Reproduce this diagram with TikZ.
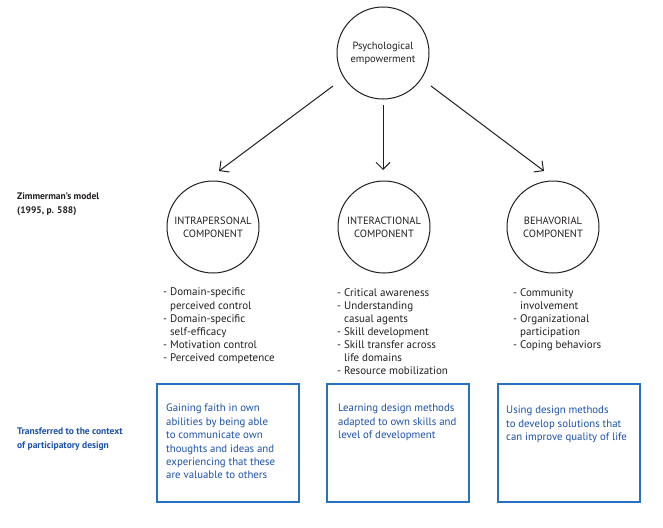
\documentclass[tikz,border=0pt]{standalone}
\usepackage{fontspec}
\setmainfont{PT Sans}
\usetikzlibrary{arrows.meta}
\definecolor{boxblue}{RGB}{40,112,196}
\definecolor{txtblue}{RGB}{28,82,170}
\definecolor{ink}{RGB}{35,31,32}
\begin{document}
\begin{tikzpicture}[x=1pt,y=-1pt,
  circ/.style={draw=ink,circle,line width=1pt,minimum size=92pt,inner sep=0pt,align=center,font=\fontsize{10.5}{13}\selectfont,text=ink},
  arr/.style={draw=ink,line width=1pt,-{Straight Barb[length=7pt,width=14pt]}},
  lst/.style={anchor=north west,inner sep=0pt,align=left,font=\fontsize{11}{13.1}\selectfont,text=ink},
  side/.style={anchor=north west,inner sep=0pt,align=left,font=\fontsize{9.5}{13.5}\selectfont\bfseries},
  bbox/.style={draw=boxblue,line width=1.1pt,minimum width=142pt,minimum height=118pt,inner sep=0pt},
  btxt/.style={anchor=north west,inner sep=0pt,align=left,font=\fontsize{10.8}{13.4}\selectfont,text=txtblue}
]
\useasboundingbox (0,0) rectangle (663,527);
\fill[white] (0,0) rectangle (663,527);
\def\hi{\phantom{- }}
% circles
\node[circ] (pe) at (383,53) {Psychological\\empowerment};
\node[circ] (ip) at (213,227) {INTRAPERSONAL\\COMPONENT};
\node[circ] (ic) at (384,227) {INTERACTIONAL\\COMPONENT};
\node[circ] (bc) at (553,227) {BEHAVORIAL\\COMPONENT};
% arrow endpoints
\coordinate (s1) at (333,86);
\coordinate (t1) at (219,171);
\coordinate (s2) at (383,105);
\coordinate (t2) at (383,170);
\coordinate (s3) at (431,86);
\coordinate (t3) at (544,171);
\draw[arr] (s1) -- (t1);
\draw[arr] (s2) -- (t2);
\draw[arr] (s3) -- (t3);
% lists
\node[lst] (l1) at (163,288) {- Domain-specific\\\hi perceived control\\- Domain-specific\\\hi self-efficacy\\- Motivation control\\- Perceived competence};
\node[lst] (l2) at (337,288) {- Critical awareness\\- Understanding\\\hi casual agents\\- Skill development\\- Skill transfer across\\\hi life domains\\- Resource mobilization};
\node[lst] (l3) at (513,288) {- Community\\\hi involvement\\- Organizational\\\hi participation\\- Coping behaviors};
% side labels
\node[side,text=ink] (zm) at (17,193) {Zimmerman's model\\(1995, p. 588)};
\node[side,text=txtblue] (tr) at (17,428) {Transferred to the context\\of participatory design};
% boxes
\node[bbox] (b1) at (228,443) {};
\node[bbox] (b2) at (398,443) {};
\node[bbox] (b3) at (569,443) {};
\node[btxt] (bt1) at (166,404) {Gaining faith in own\\abilities by being able\\to communicate own\\thoughts and ideas and\\experiencing that these\\are valuable to others};
\node[btxt] (bt2) at (338,404) {Learning design methods\\adapted to own skills and\\level of development};
\node[btxt] (bt3) at (506,406) {Using design methods\\to develop solutions that\\can improve quality of life};
\end{tikzpicture}
\end{document}
